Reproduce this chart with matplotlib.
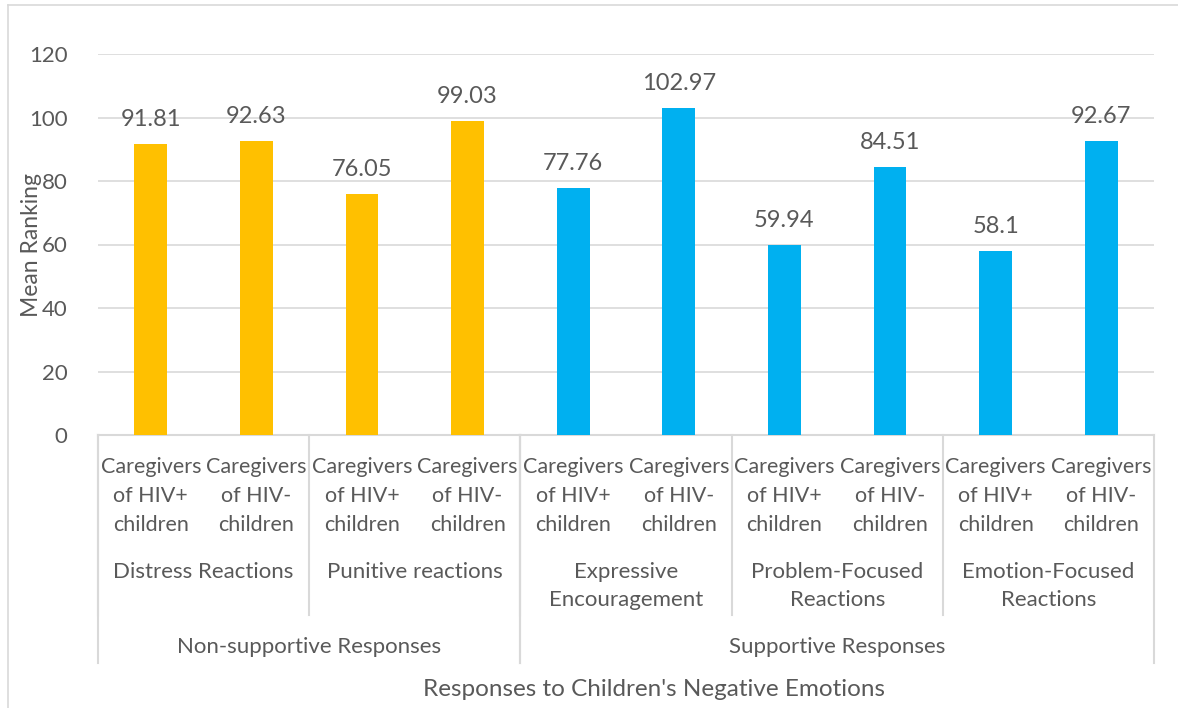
import matplotlib.pyplot as plt
import matplotlib.transforms as mtransforms
from matplotlib.lines import Line2D

# data
groups = ["Non-supportive Responses", "Supportive Responses"]
subgroups = ["Distress Reactions", "Punitive reactions", "Expressive\nEncouragement",
             "Problem-Focused\nReactions", "Emotion-Focused\nReactions"]
subgroup_parent = [0, 0, 1, 1, 1]
series_labels = ["Caregivers\nof HIV+\nchildren", "Caregivers\nof HIV-\nchildren"]
values = [91.81, 92.63, 76.05, 99.03, 77.76, 102.97, 59.94, 84.51, 58.1, 92.67]
value_labels = ["91.81", "92.63", "76.05", "99.03", "77.76", "102.97", "59.94", "84.51", "58.1", "92.67"]
group_colors = ["#FFC000", "#00B0F0"]

plt.rcParams['font.family'] = ['Lato', 'DejaVu Sans']
txt = "#595959"
grid = "#D9D9D9"
W, H = 1178, 708

fig = plt.figure(figsize=(W / 100, H / 100), dpi=100)
ax = fig.add_axes([98 / W, (H - 435) / H, 1056 / W, (435 - 54) / H])

n = len(values)
xs = list(range(n))
colors = [group_colors[subgroup_parent[i // 2]] for i in xs]
ax.bar(xs, values, width=0.31, color=colors, zorder=3)
for x, v, lab in zip(xs, values, value_labels):
    ax.annotate(lab, (x, v), xytext=(0, 10), textcoords="offset points",
                ha="center", va="bottom", fontsize=17, color=txt)

ax.set_xlim(-0.5, n - 0.5)
ax.set_ylim(0, 120)
ax.set_yticks(range(0, 121, 20))
ax.tick_params(axis="y", length=0, labelsize=16, labelcolor=txt, pad=22)
ax.set_xticks([])
ax.grid(axis="y", color=grid, lw=1.2, zorder=0)
for s in ["top", "right", "left"]:
    ax.spines[s].set_visible(False)
ax.spines["bottom"].set_color(grid)
ax.spines["bottom"].set_linewidth(1.5)

# multi-level category axis below
tr = mtransforms.blended_transform_factory(ax.transData, fig.transFigure)

def fy(py):
    return 1 - py / H

fig.text(31 / W, fy(245), "Mean Ranking", rotation=90, ha="center", va="center",
         fontsize=16.5, color=txt)

for x in xs:
    ax.text(x, fy(496), series_labels[x % 2], transform=tr, ha="center", va="center",
            fontsize=15.5, color=txt, linespacing=1.55)
for i, sg in enumerate(subgroups):
    ax.text(2 * i + 0.5, fy(562), sg, transform=tr, ha="center", va="top",
            fontsize=16, color=txt, linespacing=1.5)
    ax.plot([2 * i - 0.5] * 2, [fy(435), fy(615)], transform=tr, color=grid,
            lw=1.5, clip_on=False)
group_span = [(-0.5, 3.5), (3.5, n - 0.5)]
for (a, b), g in zip(group_span, groups):
    ax.text((a + b) / 2, fy(647), g, transform=tr, ha="center", va="center",
            fontsize=16, color=txt)
    for edge in (a, b):
        ax.plot([edge] * 2, [fy(435), fy(663)], transform=tr, color=grid,
                lw=1.5, clip_on=False)

fig.text(654 / W, fy(690), "Responses to Children's Negative Emotions",
         ha="center", va="center", fontsize=17.5, color=txt)

# outer chart border
fig.add_artist(Line2D([8 / W, 8 / W], [0, fy(5)], color=grid, lw=1.2))
fig.add_artist(Line2D([8 / W, 1], [fy(5), fy(5)], color=grid, lw=1.2))

fig.savefig("out.png", dpi=100)
